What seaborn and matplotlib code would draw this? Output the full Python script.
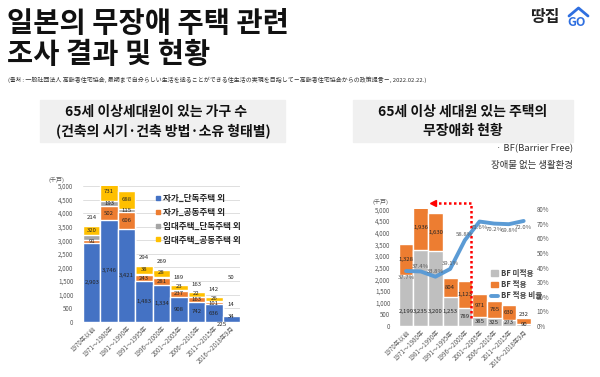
import numpy as np
import pandas as pd
import matplotlib
matplotlib.use("Agg")
import matplotlib.pyplot as plt
import matplotlib.ticker as mticker
from matplotlib.lines import Line2D
from matplotlib.patches import Patch, Rectangle
import seaborn as sns

# data
periods = ["1970年以前", "1971～1980年", "1981～1990年", "1991～1995年", "1996～2000年",
           "2001～2005年", "2006～2010年", "2011～2015年", "2016～2018年9月"]

own_detached = [2903, 3746, 3421, 1483, 1334, 908, 742, 636, 225]
own_apartment = [91, 502, 606, 243, 281, 237, 163, 101, 34]
rent_detached = [214, 193, 115, 38, 28, 23, 22, 26, 14]
rent_apartment = [320, 731, 688, 294, 269, 189, 163, 142, 50]
left_legend = ["자가_단독주택 외", "자가_공동주택 외", "임대주택_단독주택 외", "임대주택_공동주택 외"]

bf_no = [2199, 3235, 3200, 1253, 789, 385, 325, 273, 90]
bf_yes = [1328, 1936, 1630, 804, 1123, 971, 765, 630, 232]
bf_ratio = [37.7, 37.4, 33.8, 39.1, 58.8, 71.6, 70.2, 69.8, 72.0]
right_legend = ["BF 미적용", "BF 적용", "BF 적용 비율"]

BLUE = "#4472C4"
ORANGE = "#ED7D31"
GRAY = "#A5A5A5"
YELLOW = "#FFC000"
LGRAY = "#BFBFBF"
LINE = "#5B9BD5"
TXT = "#595959"

sns.set_style("white")
plt.rcParams["font.family"] = ["Noto Sans CJK KR", "DejaVu Sans"]

W, H = 600, 377


def fx(px):
    return px / W


def fy(py):
    return 1 - py / H


fig = plt.figure(figsize=(6, 3.77), dpi=100)

# title + source + logo
fig.text(fx(7), fy(24), "일본의 무장애 주택 관련", fontsize=20.5, weight="bold", va="center", color="#111111")
fig.text(fx(7), fy(55), "조사 결과 및 현황", fontsize=20.5, weight="bold", va="center", color="#111111")
fig.text(fx(8), fy(80),
         "(출처 : 一般社団法人 高齢者住宅協会, 最期まで自分らしい生活を送ることができる住生活の実現を目指して－高齢者住宅協会からの政策提言－, 2022.02.22.)",
         fontsize=4.3, va="center", color="#333333")
fig.text(fx(530), fy(17), "땅집", fontsize=11.5, weight="bold", va="center", color="#222222")
fig.text(fx(567), fy(22), "GO", fontsize=9, weight="bold", va="center", color="#2F6FE0")
fig.add_artist(Line2D([fx(569), fx(578.5), fx(588)], [fy(16), fy(8), fy(16)],
                      color="#2F6FE0", lw=2, transform=fig.transFigure))

# panel headers
fig.add_artist(Rectangle((fx(40), fy(142)), 245 / W, 42 / H, transform=fig.transFigure,
                         color="#F0F0F0", zorder=0))
fig.add_artist(Rectangle((fx(353), fy(142)), 220 / W, 42 / H, transform=fig.transFigure,
                         color="#F0F0F0", zorder=0))
fig.text(fx(156), fy(112), "65세 이상세대원이 있는 가구 수", fontsize=10, weight="bold",
         ha="center", va="center", color="#111111")
fig.text(fx(163), fy(131), "(건축의 시기·건축 방법·소유 형태별)", fontsize=10, weight="bold",
         ha="center", va="center", color="#111111")
fig.text(fx(463), fy(112), "65세 이상 세대원 있는 주택의", fontsize=10, weight="bold",
         ha="center", va="center", color="#111111")
fig.text(fx(463), fy(131), "무장애화 현황", fontsize=10, weight="bold",
         ha="center", va="center", color="#111111")
fig.text(fx(573), fy(149), "· BF(Barrier Free)", fontsize=6.8, ha="right", va="center", color="#333333")
fig.text(fx(573), fy(165), "장애물 없는 생활환경", fontsize=6.8, ha="right", va="center", color="#333333")

# ---- left chart: stacked bars
ax1 = fig.add_axes([fx(83), fy(321.7), 157 / W, 135.7 / H])
c1 = np.array(own_detached)
c2 = c1 + np.array(own_apartment)
c3 = c2 + np.array(rent_detached)
c4 = c3 + np.array(rent_apartment)
for vals, col in [(c4, YELLOW), (c3, GRAY), (c2, ORANGE), (c1, BLUE)]:
    sns.barplot(x=periods, y=vals, color=col, width=1.0, saturation=1, errorbar=None,
                edgecolor="white", linewidth=1.0, ax=ax1)
ax1.set_xlim(-0.5, 8.5)
ax1.set_ylim(0, 5000)
ax1.set_yticks(range(0, 5001, 500))
ax1.yaxis.set_major_formatter(mticker.StrMethodFormatter("{x:,.0f}"))
ax1.yaxis.grid(True, color="#D9D9D9", lw=0.6)
ax1.set_axisbelow(True)
sns.despine(ax=ax1, left=True, bottom=True)
ax1.tick_params(axis="y", labelsize=4.5, labelcolor=TXT, length=0, pad=7)
ax1.tick_params(axis="x", labelsize=4.5, labelcolor=TXT, length=0, pad=2)
ax1.set_xticks(range(len(periods)))
ax1.set_xticklabels(periods, rotation=45, ha="right", rotation_mode="anchor")
ax1.set_xlabel("")
ax1.text(-0.12, 1.03, "(千戸)", transform=ax1.transAxes, fontsize=4.3, color=TXT, ha="right")

lab = dict(fontsize=4.3, ha="center", va="center", color="#262626")
for i in range(len(periods)):
    if c4[i] < 500:
        ax1.text(i - 0.55, -90, f"{own_detached[i]:,}", **lab)
        ax1.text(i, c1[i] - 40, f"{own_apartment[i]:,}", **lab)
        ax1.text(i, 620, f"{rent_detached[i]:,}", **lab)
        ax1.text(i, 1620, f"{rent_apartment[i]:,}", **lab)
        continue
    ax1.text(i, c1[i] / 2, f"{own_detached[i]:,}", **lab)
    ax1.text(i, (c1[i] + c2[i]) / 2, f"{own_apartment[i]:,}", **lab)
    if i == 0:
        ax1.text(i, (c3[i] + c4[i]) / 2, f"{rent_apartment[i]:,}", **lab)
        ax1.text(i, c4[i] + 300, f"{rent_detached[i]:,}", **lab)
    elif rent_detached[i] > 100:
        ax1.text(i, (c2[i] + c3[i]) / 2, f"{rent_detached[i]:,}", **lab)
        ax1.text(i, min((c3[i] + c4[i]) / 2, 4800), f"{rent_apartment[i]:,}", **lab)
    else:
        ax1.text(i, (c3[i] + c4[i]) / 2 + 20, f"{rent_detached[i]:,}", **lab)
        ax1.text(i, c4[i] + 290, f"{rent_apartment[i]:,}", **lab)

mk = lambda c: Line2D([], [], marker="s", ls="none", color=c, markersize=3.2)
ax1.legend([mk(BLUE), mk(ORANGE), mk(GRAY), mk(YELLOW)], left_legend,
           loc="upper left", bbox_to_anchor=(fx(150), fy(190)), bbox_transform=fig.transFigure,
           frameon=False, prop={"size": 6.2, "weight": "bold"}, handletextpad=0.2,
           labelspacing=0.55, borderpad=0, handlelength=0.8)

# ---- right chart: bars + ratio line
ax2 = fig.add_axes([fx(398.7), fy(326), 132.3 / W, 116.7 / H])
totals = np.array(bf_no) + np.array(bf_yes)
sns.barplot(x=periods, y=totals, color=ORANGE, width=1.0, saturation=1, errorbar=None,
            edgecolor="white", linewidth=1.0, ax=ax2)
sns.barplot(x=periods, y=bf_no, color=LGRAY, width=1.0, saturation=1, errorbar=None,
            edgecolor="white", linewidth=1.0, ax=ax2)
ax2.set_xlim(-0.5, 8.5)
ax2.set_ylim(0, 5000)
ax2.set_yticks(range(0, 5001, 500))
ax2.yaxis.set_major_formatter(mticker.StrMethodFormatter("{x:,.0f}"))
sns.despine(ax=ax2, left=True, bottom=True)
ax2.tick_params(axis="y", labelsize=4.5, labelcolor=TXT, length=0, pad=6)
ax2.tick_params(axis="x", labelsize=4.5, labelcolor=TXT, length=0, pad=2)
ax2.set_xticks(range(len(periods)))
ax2.set_xticklabels(periods, rotation=45, ha="right", rotation_mode="anchor")
ax2.set_xlabel("")
ax2.text(-0.08, 1.05, "(千戸)", transform=ax2.transAxes, fontsize=4.3, color=TXT, ha="right")

for i in range(len(periods)):
    ax2.text(i, min(bf_no[i] / 2, 613), f"{bf_no[i]:,}", **lab)
    if bf_yes[i] < 300:
        ax2.text(i, totals[i] + 150, f"{bf_yes[i]:,}", **lab)
    else:
        ax2.text(i, min(bf_no[i] + bf_yes[i] / 2, 4700), f"{bf_yes[i]:,}", **lab)

ax3 = ax2.twinx()
sns.lineplot(x=np.arange(len(periods)), y=bf_ratio, color=LINE, lw=2.8, ax=ax3)
ax3.set_ylim(0, 80)
ax3.set_xlim(-0.5, 8.5)
ax3.set_yticks(range(0, 81, 10))
ax3.yaxis.set_major_formatter(mticker.FuncFormatter(lambda v, p: f"{v:.0f}%"))
ax3.tick_params(axis="y", labelsize=4.5, labelcolor=TXT, length=0, pad=4)
sns.despine(ax=ax3, left=True, bottom=True, right=True)
for i, r in enumerate(bf_ratio):
    below = i == 0 or i >= 5
    ax3.text(i, r - 4.2 if below else r + 3.6, f"{r:.1f}%", fontsize=4.3, color=TXT,
             ha="center", va="center")

# red dotted arrow
ax2.plot([4.45, 4.45], [340, 5270], ls=(0, (1, 1)), color="red", lw=1.8, clip_on=False, zorder=5)
ax2.plot([4.45, 1.95], [5270, 5270], ls=(0, (1, 1)), color="red", lw=1.8, clip_on=False, zorder=5)
ax2.plot([1.8], [5270], marker="<", color="red", ms=5, clip_on=False, zorder=5)

ax3.legend([Patch(color=LGRAY), Patch(color=ORANGE), Line2D([], [], color=LINE, lw=2.8)],
           right_legend, loc="upper left", bbox_to_anchor=(fx(487), fy(265)),
           bbox_transform=fig.transFigure, frameon=False,
           prop={"size": 5.5, "weight": "bold"}, labelcolor="#404040",
           handlelength=1.0, handleheight=0.7, handletextpad=0.3, labelspacing=0.3, borderpad=0)

fig.savefig("out.png", dpi=100)
